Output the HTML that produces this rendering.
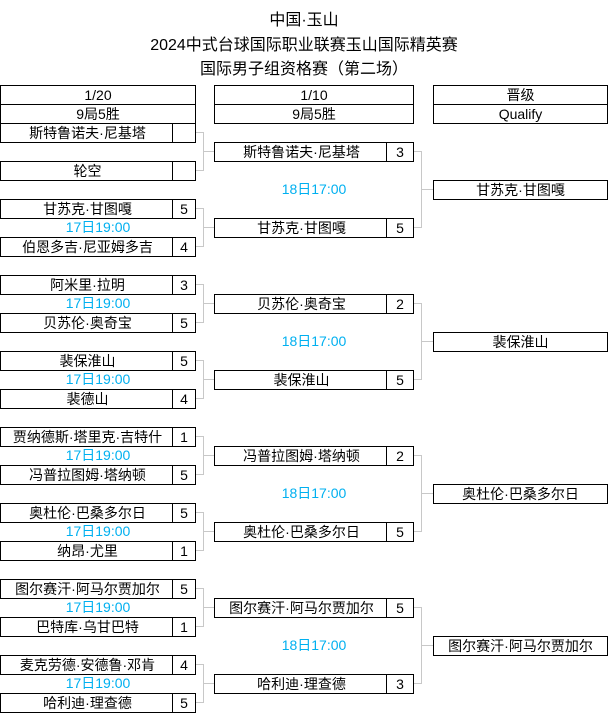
<!DOCTYPE html>
<html><head><meta charset="utf-8"><style>
body{margin:0;width:608px;height:713px;position:relative;background:#fff;overflow:hidden;font-family:"Liberation Sans","Noto Sans CJK SC",sans-serif;color:#000}
.t{position:absolute;left:0;width:608px;text-align:center;font-size:16px;line-height:24px}
.b{position:absolute;height:20px;box-sizing:border-box;border:1px solid #000;font-size:14px;line-height:18px;text-align:center;white-space:nowrap}
.n{position:absolute;left:0;top:0;bottom:0;box-sizing:border-box}
.s{position:absolute;top:0;bottom:0;right:0;border-left:1px solid #000;text-align:center}
.c1{left:0;width:196px}.c1 .n{width:173px}.c1 .s{width:22px}
.c2{left:214px;width:200px}.c2 .n{width:173px}.c2 .s{width:26px}
.c3{left:433px;width:175px}
.tm{position:absolute;font-size:14px;line-height:19px;color:#00b0f0;text-align:center}
.tm1{left:0;width:196px}.tm2{left:214px;width:200px}
.l{position:absolute;background:#c8c8c8}
</style></head><body>
<div class="t" style="top:9px">中国·玉山</div>
<div class="t" style="top:34px">2024中式台球国际职业联赛玉山国际精英赛</div>
<div class="t" style="top:58px">国际男子组资格赛（第二场）</div>

<div class="b c1" style="top:85px">1/20</div>
<div class="b c1" style="top:104px">9局5胜</div>
<div class="b c2" style="top:85px">1/10</div>
<div class="b c2" style="top:104px">9局5胜</div>
<div class="b c3" style="top:85px">晋级</div>
<div class="b c3" style="top:104px">Qualify</div>

<div class="b c1" style="top:123px"><div class="n">斯特鲁诺夫·尼基塔</div><div class="s"></div></div>
<div class="b c1" style="top:161px"><div class="n">轮空</div><div class="s"></div></div>
<div class="b c1" style="top:199px"><div class="n">甘苏克·甘图嘎</div><div class="s">5</div></div>
<div class="tm tm1" style="top:218px">17日19:00</div>
<div class="b c1" style="top:237px"><div class="n">伯恩多吉·尼亚姆多吉</div><div class="s">4</div></div>
<div class="b c1" style="top:275px"><div class="n">阿米里·拉明</div><div class="s">3</div></div>
<div class="tm tm1" style="top:294px">17日19:00</div>
<div class="b c1" style="top:313px"><div class="n">贝苏伦·奥奇宝</div><div class="s">5</div></div>
<div class="b c1" style="top:351px"><div class="n">裴保淮山</div><div class="s">5</div></div>
<div class="tm tm1" style="top:370px">17日19:00</div>
<div class="b c1" style="top:389px"><div class="n">裴德山</div><div class="s">4</div></div>
<div class="b c1" style="top:427px"><div class="n">贾纳德斯·塔里克·吉特什</div><div class="s">1</div></div>
<div class="tm tm1" style="top:446px">17日19:00</div>
<div class="b c1" style="top:465px"><div class="n">冯普拉图姆·塔纳顿</div><div class="s">5</div></div>
<div class="b c1" style="top:503px"><div class="n">奥杜伦·巴桑多尔日</div><div class="s">5</div></div>
<div class="tm tm1" style="top:522px">17日19:00</div>
<div class="b c1" style="top:541px"><div class="n">纳昂·尤里</div><div class="s">1</div></div>
<div class="b c1" style="top:579px"><div class="n">图尔赛汗·阿马尔贾加尔</div><div class="s">5</div></div>
<div class="tm tm1" style="top:598px">17日19:00</div>
<div class="b c1" style="top:617px"><div class="n">巴特库·乌甘巴特</div><div class="s">1</div></div>
<div class="b c1" style="top:655px"><div class="n">麦克劳德·安德鲁·邓肯</div><div class="s">4</div></div>
<div class="tm tm1" style="top:674px">17日19:00</div>
<div class="b c1" style="top:693px"><div class="n">哈利迪·理查德</div><div class="s">5</div></div>

<div class="b c2" style="top:142px"><div class="n">斯特鲁诺夫·尼基塔</div><div class="s">3</div></div>
<div class="tm tm2" style="top:180px">18日17:00</div>
<div class="b c2" style="top:218px"><div class="n">甘苏克·甘图嘎</div><div class="s">5</div></div>
<div class="b c2" style="top:294px"><div class="n">贝苏伦·奥奇宝</div><div class="s">2</div></div>
<div class="tm tm2" style="top:332px">18日17:00</div>
<div class="b c2" style="top:370px"><div class="n">裴保淮山</div><div class="s">5</div></div>
<div class="b c2" style="top:446px"><div class="n">冯普拉图姆·塔纳顿</div><div class="s">2</div></div>
<div class="tm tm2" style="top:484px">18日17:00</div>
<div class="b c2" style="top:522px"><div class="n">奥杜伦·巴桑多尔日</div><div class="s">5</div></div>
<div class="b c2" style="top:598px"><div class="n">图尔赛汗·阿马尔贾加尔</div><div class="s">5</div></div>
<div class="tm tm2" style="top:636px">18日17:00</div>
<div class="b c2" style="top:674px"><div class="n">哈利迪·理查德</div><div class="s">3</div></div>

<div class="b c3" style="top:180px">甘苏克·甘图嘎</div>
<div class="b c3" style="top:332px">裴保淮山</div>
<div class="b c3" style="top:484px">奥杜伦·巴桑多尔日</div>
<div class="b c3" style="top:636px">图尔赛汗·阿马尔贾加尔</div>

<div class="l" style="left:196px;top:132px;width:8px;height:1px"></div>
<div class="l" style="left:196px;top:170px;width:8px;height:1px"></div>
<div class="l" style="left:203px;top:132px;width:1px;height:39px"></div>
<div class="l" style="left:203px;top:151px;width:11px;height:1px"></div>

<div class="l" style="left:196px;top:208px;width:8px;height:1px"></div>
<div class="l" style="left:196px;top:246px;width:8px;height:1px"></div>
<div class="l" style="left:203px;top:208px;width:1px;height:39px"></div>
<div class="l" style="left:203px;top:227px;width:11px;height:1px"></div>

<div class="l" style="left:196px;top:284px;width:8px;height:1px"></div>
<div class="l" style="left:196px;top:322px;width:8px;height:1px"></div>
<div class="l" style="left:203px;top:284px;width:1px;height:39px"></div>
<div class="l" style="left:203px;top:303px;width:11px;height:1px"></div>

<div class="l" style="left:196px;top:360px;width:8px;height:1px"></div>
<div class="l" style="left:196px;top:398px;width:8px;height:1px"></div>
<div class="l" style="left:203px;top:360px;width:1px;height:39px"></div>
<div class="l" style="left:203px;top:379px;width:11px;height:1px"></div>

<div class="l" style="left:196px;top:436px;width:8px;height:1px"></div>
<div class="l" style="left:196px;top:474px;width:8px;height:1px"></div>
<div class="l" style="left:203px;top:436px;width:1px;height:39px"></div>
<div class="l" style="left:203px;top:455px;width:11px;height:1px"></div>

<div class="l" style="left:196px;top:512px;width:8px;height:1px"></div>
<div class="l" style="left:196px;top:550px;width:8px;height:1px"></div>
<div class="l" style="left:203px;top:512px;width:1px;height:39px"></div>
<div class="l" style="left:203px;top:531px;width:11px;height:1px"></div>

<div class="l" style="left:196px;top:588px;width:8px;height:1px"></div>
<div class="l" style="left:196px;top:626px;width:8px;height:1px"></div>
<div class="l" style="left:203px;top:588px;width:1px;height:39px"></div>
<div class="l" style="left:203px;top:607px;width:11px;height:1px"></div>

<div class="l" style="left:196px;top:664px;width:8px;height:1px"></div>
<div class="l" style="left:196px;top:702px;width:8px;height:1px"></div>
<div class="l" style="left:203px;top:664px;width:1px;height:39px"></div>
<div class="l" style="left:203px;top:683px;width:11px;height:1px"></div>

<div class="l" style="left:414px;top:151px;width:8px;height:1px"></div>
<div class="l" style="left:414px;top:227px;width:8px;height:1px"></div>
<div class="l" style="left:421px;top:151px;width:1px;height:77px"></div>
<div class="l" style="left:421px;top:189px;width:12px;height:1px"></div>

<div class="l" style="left:414px;top:303px;width:8px;height:1px"></div>
<div class="l" style="left:414px;top:379px;width:8px;height:1px"></div>
<div class="l" style="left:421px;top:303px;width:1px;height:77px"></div>
<div class="l" style="left:421px;top:341px;width:12px;height:1px"></div>

<div class="l" style="left:414px;top:455px;width:8px;height:1px"></div>
<div class="l" style="left:414px;top:531px;width:8px;height:1px"></div>
<div class="l" style="left:421px;top:455px;width:1px;height:77px"></div>
<div class="l" style="left:421px;top:493px;width:12px;height:1px"></div>

<div class="l" style="left:414px;top:607px;width:8px;height:1px"></div>
<div class="l" style="left:414px;top:683px;width:8px;height:1px"></div>
<div class="l" style="left:421px;top:607px;width:1px;height:77px"></div>
<div class="l" style="left:421px;top:645px;width:12px;height:1px"></div>
</body></html>
